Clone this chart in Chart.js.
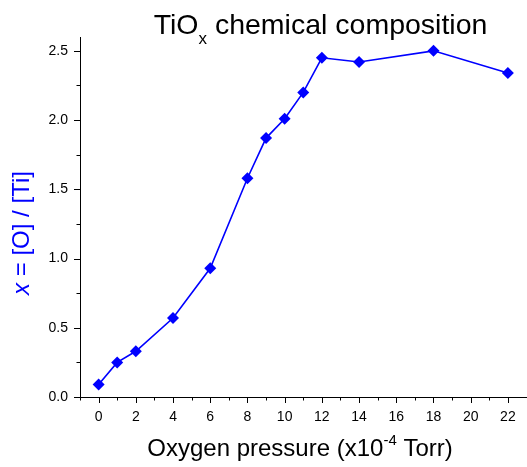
<!DOCTYPE html>
<html>
<head>
<meta charset="utf-8">
<title>TiOx chemical composition</title>
<script src="https://cdn.jsdelivr.net/npm/chart.js@4.4.1/dist/chart.umd.min.js"></script>
<style>
    html, body { margin: 0; padding: 0; background: #fff; }
    #wrap { width: 527px; height: 467px; position: relative; }
</style>
</head>
<body>
<div id="wrap"><canvas id="chart"></canvas></div>
<script>
// Oxygen pressure (x10^-4 Torr) and measured x = [O]/[Ti]
const pressure = [0, 1, 2, 4, 6, 8, 9, 10, 11, 12, 14, 18, 22];
const ratio = [0.09, 0.25, 0.33, 0.57, 0.93, 1.58, 1.87, 2.01, 2.20, 2.45, 2.42, 2.50, 2.34];

// Labelled (major) ticks; minor ticks sit halfway between them
const xMajorTicks = [0, 2, 4, 6, 8, 10, 12, 14, 16, 18, 20, 22];
const yMajorTicks = [0.0, 0.5, 1.0, 1.5, 2.0, 2.5];
const xMinorTicks = [-1, 1, 3, 5, 7, 9, 11, 13, 15, 17, 19, 21, 23];
const yMinorTicks = [0.25, 0.75, 1.25, 1.75, 2.25];

const xRange = [-1, 23];
const yRange = [0, 2.6];

const FONT = '"Liberation Sans", Arial, sans-serif';
const BLUE = '#0000ff';

const asTicks = (list) => list.slice().sort((a, b) => a - b).map((value) => ({ value }));

// Outward major/minor tick marks, Origin style
const tickMarks = {
    id: 'tickMarks',
    afterDraw(chart) {
        const { ctx, scales: { x, y } } = chart;
        ctx.save();
        ctx.strokeStyle = '#000';
        ctx.lineWidth = 1;
        ctx.beginPath();
        x.ticks.forEach((t) => {
            const major = xMajorTicks.includes(t.value);
            const px = Math.round(x.getPixelForValue(t.value)) + 0.5;
            ctx.moveTo(px, y.bottom);
            ctx.lineTo(px, y.bottom + (major ? 6 : 3.5));
        });
        y.ticks.forEach((t) => {
            const major = yMajorTicks.includes(t.value);
            const py = Math.round(y.getPixelForValue(t.value)) + 0.5;
            ctx.moveTo(x.left, py);
            ctx.lineTo(x.left - (major ? 6 : 3.5), py);
        });
        ctx.stroke();
        ctx.restore();
    },
};

// Title and axis titles with sub/superscripts
function drawRuns(ctx, runs, cx, cy) {
    const widths = runs.map((r) => {
        ctx.font = r.font;
        return ctx.measureText(r.text).width;
    });
    let px = cx - widths.reduce((a, b) => a + b, 0) / 2;
    runs.forEach((r, i) => {
        ctx.font = r.font;
        ctx.fillText(r.text, px, cy + (r.dy || 0));
        px += widths[i];
    });
}

const titles = {
    id: 'titles',
    afterDraw(chart) {
        const { ctx } = chart;
        ctx.save();
        ctx.textBaseline = 'alphabetic';
        ctx.textAlign = 'left';

        ctx.fillStyle = '#000';
        drawRuns(ctx, [
            { text: 'TiO', font: `28.5px ${FONT}` },
            { text: 'x', font: `17px ${FONT}`, dy: 10 },
            { text: ' chemical composition', font: `28.5px ${FONT}` },
        ], 320.5, 34);

        drawRuns(ctx, [
            { text: 'Oxygen pressure (x10', font: `24px ${FONT}` },
            { text: '-4', font: `15px ${FONT}`, dy: -11 },
            { text: ' Torr)', font: `24px ${FONT}` },
        ], 300, 456);

        ctx.translate(29, 233);
        ctx.rotate(-Math.PI / 2);
        ctx.fillStyle = BLUE;
        drawRuns(ctx, [
            { text: 'x', font: `italic 24px ${FONT}` },
            { text: ' = [O] / [Ti]', font: `24px ${FONT}` },
        ], 0, 0);
        ctx.restore();
    },
};

new Chart(document.getElementById('chart'), {
    type: 'line',
    data: {
        datasets: [{
            data: pressure.map((p, i) => ({ x: p, y: ratio[i] })),
            borderColor: BLUE,
            backgroundColor: BLUE,
            borderWidth: 1.6,
            pointStyle: 'rectRot',
            pointRadius: 6,
            pointHoverRadius: 6,
            pointBorderWidth: 0,
            tension: 0,
        }],
    },
    options: {
        responsive: true,
        maintainAspectRatio: false,
        animation: false,
        layout: { autoPadding: false, padding: { top: 37, right: 0.5, left: 0, bottom: 0 } },
        plugins: {
            legend: { display: false },
            tooltip: { enabled: false },
        },
        scales: {
            x: {
                type: 'linear',
                min: xRange[0],
                max: xRange[1],
                afterBuildTicks: (scale) => { scale.ticks = asTicks(xMajorTicks.concat(xMinorTicks)); },
                afterFit: (scale) => {
                    scale.height = 70;
                    scale.paddingLeft = 0;
                    scale.paddingRight = 0;
                },
                border: { display: true, color: '#000', width: 1 },
                grid: { display: false, drawTicks: false },
                ticks: {
                    autoSkip: false,
                    maxRotation: 0,
                    padding: 12,
                    color: '#000',
                    font: { family: FONT, size: 14 },
                    callback: (v) => (xMajorTicks.includes(v) ? String(v) : ''),
                },
            },
            y: {
                min: yRange[0],
                max: yRange[1],
                afterBuildTicks: (scale) => { scale.ticks = asTicks(yMajorTicks.concat(yMinorTicks)); },
                afterFit: (scale) => {
                    scale.width = 80;
                    scale.paddingTop = 0;
                    scale.paddingBottom = 0;
                },
                border: { display: true, color: '#000', width: 1 },
                grid: { display: false, drawTicks: false },
                ticks: {
                    autoSkip: false,
                    padding: 12,
                    color: '#000',
                    font: { family: FONT, size: 14 },
                    callback: (v) => (yMajorTicks.includes(v) ? v.toFixed(1) : ''),
                },
            },
        },
    },
    plugins: [tickMarks, titles],
});
</script>
</body>
</html>
